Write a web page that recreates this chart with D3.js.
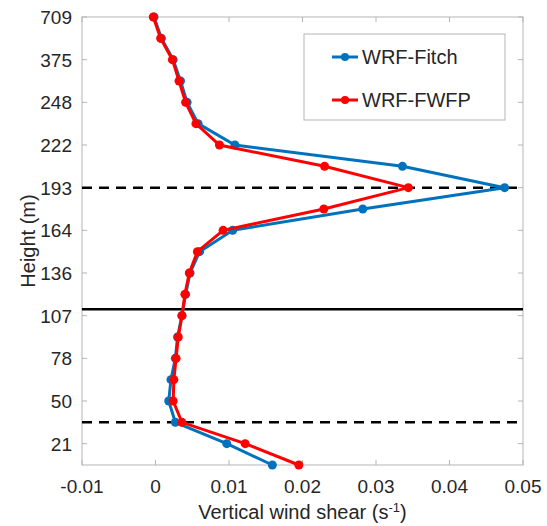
<!DOCTYPE html>
<html><head><meta charset="utf-8">
<script src="https://cdn.jsdelivr.net/npm/d3@7"></script>
<style>body{margin:0;background:#fff}svg{display:block}text{font-family:"Liberation Sans",Arial,sans-serif;fill:#262626}</style>
</head><body><div id="chart"></div>
<script>
// level index (0 = lowest model level)
const levels = d3.range(0, 22);
const yTickLevels = [1,3,5,7,9,11,13,15,17,19,21];
const yTickLabels = ["21","50","78","107","136","164","193","222","248","375","709"];
const xTicks = [-0.01,0,0.01,0.02,0.03,0.04,0.05];
const fitch = [0.0159,0.0097,0.0027,0.0018,0.0021,0.0027,0.0030,0.0036,0.0041,0.0047,0.0060,0.0105,0.0282,0.0475,0.0336,0.0108,0.0058,0.0043,0.0034,0.0024,0.0008,-0.0002];
const fwfp  = [0.0195,0.0122,0.0036,0.0024,0.0025,0.0028,0.0031,0.0036,0.0040,0.0046,0.0057,0.0092,0.0229,0.0344,0.0230,0.0087,0.0055,0.0041,0.0032,0.0023,0.0007,-0.0003];
const seriesNames = ["WRF-Fitch","WRF-FWFP"];
const seriesColors = ["#0072BD","#FF0000"];
const dashedLevels = [2,13];
const solidLevels = [7.3];

const W=547,H=526, L=82,R=523,T=17,B=465;
const svg=d3.select("#chart").append("svg").attr("width",W).attr("height",H);
const x=d3.scaleLinear().domain([-0.01,0.05]).range([L,R]);
const y=d3.scaleLinear().domain([0,21]).range([B,T]);
const axisCol="#b5b5b5";

// box
svg.append("rect").attr("x",L).attr("y",T).attr("width",R-L).attr("height",B-T).attr("fill","none").attr("stroke",axisCol).attr("stroke-width",1);

// ticks
const tl=5;
xTicks.forEach(v=>{
  svg.append("line").attr("x1",x(v)).attr("x2",x(v)).attr("y1",B).attr("y2",B-tl).attr("stroke",axisCol);
  svg.append("line").attr("x1",x(v)).attr("x2",x(v)).attr("y1",T).attr("y2",T+tl).attr("stroke",axisCol);
  svg.append("text").attr("x",x(v)).attr("y",B+28).attr("text-anchor","middle").attr("font-size",19)
    .text(v===0?"0":d3.format(".2f")(v).replace("\u2212","-"));
});
yTickLevels.forEach((lv,i)=>{
  svg.append("line").attr("x1",L).attr("x2",L+tl).attr("y1",y(lv)).attr("y2",y(lv)).attr("stroke",axisCol);
  svg.append("line").attr("x1",R).attr("x2",R-tl).attr("y1",y(lv)).attr("y2",y(lv)).attr("stroke",axisCol);
  svg.append("text").attr("x",L-10).attr("y",y(lv)+7).attr("text-anchor","end").attr("font-size",19).text(yTickLabels[i]);
});

// axis labels
const xl=svg.append("text").attr("x",(L+R)/2).attr("y",519).attr("text-anchor","middle").attr("font-size",20);
xl.append("tspan").text("Vertical wind shear (s");
xl.append("tspan").attr("dy",-7).attr("font-size",13).text("-1");
xl.append("tspan").attr("dy",7).text(")");
svg.append("text").attr("transform",`translate(35,${(T+B)/2}) rotate(-90)`).attr("text-anchor","middle").attr("font-size",20).text("Height (m)");

// reference lines
dashedLevels.forEach(lv=>svg.append("line").attr("x1",L).attr("x2",R).attr("y1",y(lv)).attr("y2",y(lv)).attr("stroke","#000").attr("stroke-width",2.5).attr("stroke-dasharray","10,7"));
solidLevels.forEach(lv=>svg.append("line").attr("x1",L).attr("x2",R).attr("y1",y(lv)).attr("y2",y(lv)).attr("stroke","#000").attr("stroke-width",2.5));

// series
const line=d3.line().x(d=>x(d[0])).y(d=>y(d[1]));
[fitch,fwfp].forEach((s,k)=>{
  const pts=s.map((v,i)=>[v,levels[i]]);
  svg.append("path").attr("d",line(pts)).attr("fill","none").attr("stroke",seriesColors[k]).attr("stroke-width",3);
  svg.selectAll(null).data(pts).enter().append("circle").attr("cx",d=>x(d[0])).attr("cy",d=>y(d[1])).attr("r",4.5).attr("fill",seriesColors[k]);
});

// legend
const lg=svg.append("g");
lg.append("rect").attr("x",304).attr("y",34).attr("width",201).attr("height",86).attr("fill","#fff").attr("stroke",axisCol);
seriesNames.forEach((n,k)=>{
  const yy=57+k*43;
  lg.append("line").attr("x1",332).attr("x2",358).attr("y1",yy).attr("y2",yy).attr("stroke",seriesColors[k]).attr("stroke-width",3);
  lg.append("circle").attr("cx",345).attr("cy",yy).attr("r",4).attr("fill",seriesColors[k]);
  lg.append("text").attr("x",362).attr("y",yy+7).attr("font-size",20).text(n);
});
</script></body></html>
